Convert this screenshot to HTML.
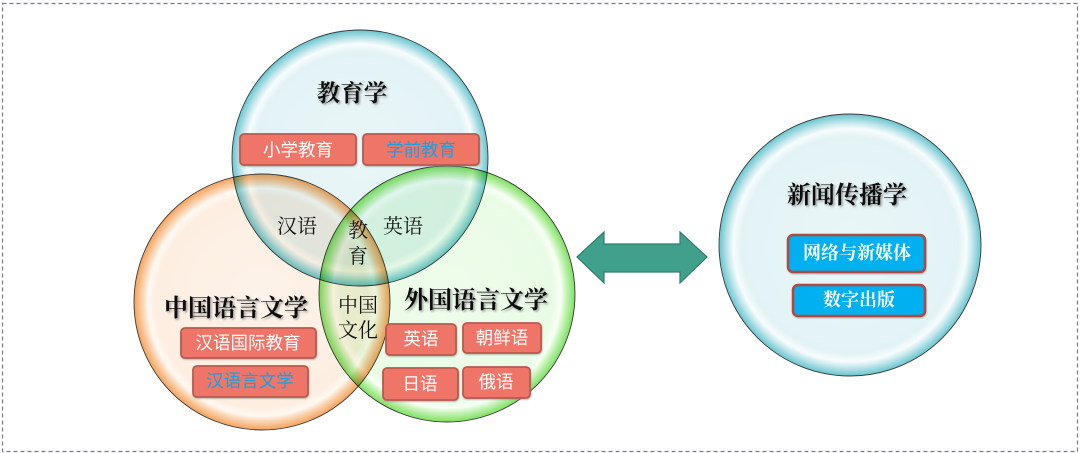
<!DOCTYPE html>
<html><head><meta charset="utf-8"><style>
html,body{margin:0;padding:0;background:#fff;}
body{width:1080px;height:453px;overflow:hidden;}
svg{display:block;}
.ser{font-family:"Liberation Serif","Noto Serif CJK SC",serif;}
.san{font-family:"Liberation Sans","Noto Sans CJK SC",sans-serif;}
</style></head><body>
<svg width="1080" height="453" viewBox="0 0 1080 453" xmlns="http://www.w3.org/2000/svg">
<defs>
<radialGradient id="gb" cx="50%" cy="50%" r="50%">
<stop offset="0" stop-color="#eaf6f8"/><stop offset="0.83" stop-color="#e3f3f5"/><stop offset="0.89" stop-color="#f7fcfd"/><stop offset="0.93" stop-color="#c8e9ed"/><stop offset="1" stop-color="#68c4cf"/>
</radialGradient>
<radialGradient id="go" cx="50%" cy="50%" r="50%">
<stop offset="0" stop-color="#fdf3ea"/><stop offset="0.83" stop-color="#fdeee1"/><stop offset="0.89" stop-color="#fff9f3"/><stop offset="0.93" stop-color="#fbd7b6"/><stop offset="1" stop-color="#f4a25c"/>
</radialGradient>
<radialGradient id="gg" cx="50%" cy="50%" r="50%">
<stop offset="0" stop-color="#effcec"/><stop offset="0.83" stop-color="#e9fbe5"/><stop offset="0.89" stop-color="#f8fff6"/><stop offset="0.93" stop-color="#c9f4bb"/><stop offset="1" stop-color="#7ddf61"/>
</radialGradient>
<filter id="sh" x="-10%" y="-20%" width="130%" height="150%">
<feDropShadow dx="1.5" dy="1.5" stdDeviation="1" flood-color="#777" flood-opacity="0.7"/>
</filter>
<filter id="bs" x="-10%" y="-20%" width="130%" height="150%">
<feDropShadow dx="0.5" dy="1" stdDeviation="0.8" flood-color="#888" flood-opacity="0.6"/>
</filter>
</defs>

<rect x="2.5" y="3.5" width="1075" height="448" fill="none" stroke="#7a7888" stroke-width="1.2" stroke-dasharray="4,3"/>

<g style="isolation:isolate">
<circle cx="262" cy="302" r="128" fill="url(#go)" stroke="#3a3a3a" stroke-width="0.9" style="mix-blend-mode:multiply"/>
<circle cx="447" cy="294" r="128" fill="url(#gg)" stroke="#3a3a3a" stroke-width="0.9" style="mix-blend-mode:multiply"/>
<circle cx="360" cy="158" r="128" fill="url(#gb)" stroke="#3a3a3a" stroke-width="0.9" style="mix-blend-mode:multiply"/>
</g>

<circle cx="850" cy="245" r="131" fill="url(#gb)" stroke="#3a3a3a" stroke-width="0.9"/>

<polygon points="577,257 604,232 604,244 680,244 680,232 707,257 680,283 680,272 604,272 604,283" fill="#40a08b" stroke="#2f7d6d" stroke-width="1.2" stroke-linejoin="miter"/>

<g class="ser" font-weight="700" fill="#111" filter="url(#sh)" dominant-baseline="central" text-anchor="middle">
<text x="352" y="94" font-size="23.5">教育学</text>
<text x="236" y="309" font-size="24">中国语言文学</text>
<text x="476" y="301" font-size="24">外国语言文学</text>
<text x="847" y="196" font-size="24">新闻传播学</text>
</g>

<g class="ser" fill="#111" dominant-baseline="central" text-anchor="middle" font-size="20">
<text x="297" y="227">汉语</text>
<text x="403" y="227">英语</text>
<text x="358" y="231">教</text>
<text x="358" y="257">育</text>
<text x="358" y="306">中国</text>
<text x="358" y="331">文化</text>
</g>

<g fill="#ee7468" stroke="#b85a50" stroke-width="1.8" filter="url(#bs)">
<rect x="240" y="134" width="116" height="31" rx="4"/>
<rect x="363" y="134" width="116" height="31" rx="4"/>
<rect x="181" y="328" width="135" height="30" rx="4"/>
<rect x="193" y="366" width="115" height="31" rx="4"/>
<rect x="386" y="324" width="70" height="31" rx="4"/>
<rect x="463" y="323" width="78" height="30" rx="4"/>
<rect x="383" y="368" width="75" height="32" rx="4"/>
<rect x="463" y="367" width="67" height="31" rx="4"/>
</g>
<g fill="#00b0f0" stroke="#b0483f" stroke-width="2.5" filter="url(#bs)">
<rect x="788" y="235" width="137" height="37" rx="5"/>
<rect x="793" y="285" width="132" height="31" rx="5"/>
</g>

<g class="san" font-size="17.5" dominant-baseline="central" text-anchor="middle" fill="#fff">
<text x="298" y="150">小学教育</text>
<text x="421" y="150" fill="#1a9fe0">学前教育</text>
<text x="248" y="343">汉语国际教育</text>
<text x="250" y="381" fill="#1a9fe0">汉语言文学</text>
<text x="421" y="339">英语</text>
<text x="502" y="338">朝鲜语</text>
<text x="420" y="384">日语</text>
<text x="496" y="382">俄语</text>
</g>
<g class="ser" font-size="18" font-weight="700" dominant-baseline="central" text-anchor="middle" fill="#fff">
<text x="857" y="253">网络与新媒体</text>
<text x="859" y="300">数字出版</text>
</g>
</svg>
</body></html>
